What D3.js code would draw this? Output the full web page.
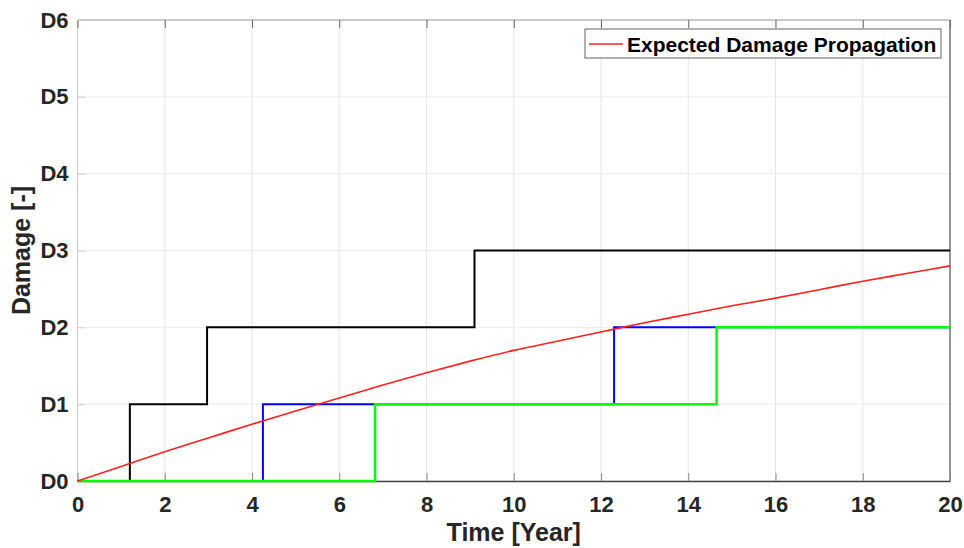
<!DOCTYPE html>
<html><head><meta charset="utf-8">
<script src="https://cdn.jsdelivr.net/npm/d3@7/dist/d3.min.js"></script>
<style>body{margin:0;background:#fff;}svg{display:block;font-family:"Liberation Sans",Arial,Helvetica,sans-serif;}</style>
</head><body><svg id="c" width="964" height="548"></svg>
<script>
// Data
const xTicks = [0,2,4,6,8,10,12,14,16,18,20];
const yTicks = [0,1,2,3,4,5,6];
const yTickLabels = ["D0","D1","D2","D3","D4","D5","D6"];
// Expected damage propagation (red)
const expectedX = [0,1,2,3,4,5,6,7,8,9,10,11,12,13,14,15,16,17,18,19,20];
const expectedY = [0,0.19,0.38,0.56,0.74,0.91,1.08,1.25,1.41,1.56,1.70,1.82,1.94,2.06,2.17,2.28,2.38,2.49,2.60,2.70,2.80];
// Step paths: [time, damage] transitions
const blackSteps = {t:[0,1.2,2.97,9.1,20], d:[0,1,2,3,3]};
const blueSteps  = {t:[0,4.25,12.3,20], d:[0,1,2,2]};
const greenSteps = {t:[0,6.82,14.65,20], d:[0,1,2,2]};
const legendLabel = "Expected Damage Propagation";

const svg = d3.select("#c");
const L=77.5, R=950, T=20, B=481;
const x = d3.scaleLinear().domain([0,20]).range([L,R]);
const y = d3.scaleLinear().domain([0,6]).range([B,T]);

// grid
const g = svg.append("g");
g.selectAll(".gx").data(xTicks).join("line")
 .attr("x1",d=>x(d)).attr("x2",d=>x(d)).attr("y1",T).attr("y2",B)
 .attr("stroke","#e6e6e6").attr("stroke-width",1);
g.selectAll(".gy").data(yTicks).join("line")
 .attr("y1",d=>y(d)).attr("y2",d=>y(d)).attr("x1",L).attr("x2",R)
 .attr("stroke","#ececec").attr("stroke-width",1);

// box
svg.append("line").attr("x1",L).attr("x2",R).attr("y1",T).attr("y2",T).attr("stroke","#a0a0a0").attr("stroke-width",1.2);
svg.append("line").attr("x1",L).attr("x2",L).attr("y1",T).attr("y2",B).attr("stroke","#cfcfcf").attr("stroke-width",1.2);
svg.append("line").attr("x1",R).attr("x2",R).attr("y1",T).attr("y2",B).attr("stroke","#555").attr("stroke-width",1.2);

// x axis (bottom) via d3 axis, ticks inward
const xAxis = d3.axisBottom(x).tickValues(xTicks).tickSizeInner(-8).tickSizeOuter(0).tickPadding(15);
const xa = svg.append("g").attr("transform",`translate(0,${B})`).call(xAxis);
xa.select(".domain").attr("stroke","#404040").attr("stroke-width",1.5);
xa.selectAll(".tick line").attr("stroke","#888");
xa.selectAll("text").attr("font-size",22).attr("font-weight","bold").attr("fill","#262626");
// top ticks
const xTop = d3.axisTop(x).tickValues(xTicks).tickSizeInner(-8).tickSizeOuter(0).tickFormat("");
const xt = svg.append("g").attr("transform",`translate(0,${T})`).call(xTop);
xt.select(".domain").remove();
xt.selectAll(".tick line").attr("stroke","#666");

// y axis
const yAxis = d3.axisLeft(y).tickValues(yTicks).tickFormat((d,i)=>yTickLabels[i]).tickSizeInner(-8).tickSizeOuter(0).tickPadding(9);
const ya = svg.append("g").attr("transform",`translate(${L},0)`).call(yAxis);
ya.select(".domain").remove();
ya.selectAll(".tick line").attr("stroke","#d0d0d0");
ya.selectAll("text").attr("font-size",22).attr("font-weight","bold").attr("fill","#262626");

// axis titles
svg.append("text").attr("x",(L+R)/2).attr("y",541).attr("text-anchor","middle")
 .attr("font-size",25).attr("font-weight","bold").attr("fill","#262626").text("Time [Year]");
svg.append("text").attr("transform",`translate(30,${(T+B)/2}) rotate(-90)`).attr("text-anchor","middle")
 .attr("font-size",25).attr("font-weight","bold").attr("fill","#262626").text("Damage [-]");

// step lines
const stepLine = d3.line().x(d=>x(d[0])).y(d=>y(d[1])).curve(d3.curveStepAfter);
function drawStep(s,color,w){
  const pts = s.t.map((t,i)=>[t,s.d[i]]);
  svg.append("path").datum(pts).attr("d",stepLine).attr("fill","none").attr("stroke",color).attr("stroke-width",w);
}
drawStep(blackSteps,"#000000",2);
drawStep(blueSteps,"#0000ff",2);
drawStep(greenSteps,"#00ff00",2.5);

// red
const redLine = d3.line().x(d=>x(d[0])).y(d=>y(d[1])).curve(d3.curveMonotoneX);
svg.append("path").datum(expectedX.map((t,i)=>[t,expectedY[i]])).attr("d",redLine)
 .attr("fill","none").attr("stroke","#ff2020").attr("stroke-width",1.6);

// legend
const lg = svg.append("g");
lg.append("rect").attr("x",585).attr("y",29).attr("width",356).attr("height",29)
 .attr("fill","#fff").attr("stroke","#3c3c3c").attr("stroke-width",0.8);
lg.append("line").attr("x1",589).attr("x2",623).attr("y1",44).attr("y2",44).attr("stroke","#ff2020").attr("stroke-width",1.6);
lg.append("text").attr("x",627).attr("y",51.5).attr("font-size",21).attr("font-weight","bold").attr("fill","#000").text(legendLabel);
</script></body></html>
